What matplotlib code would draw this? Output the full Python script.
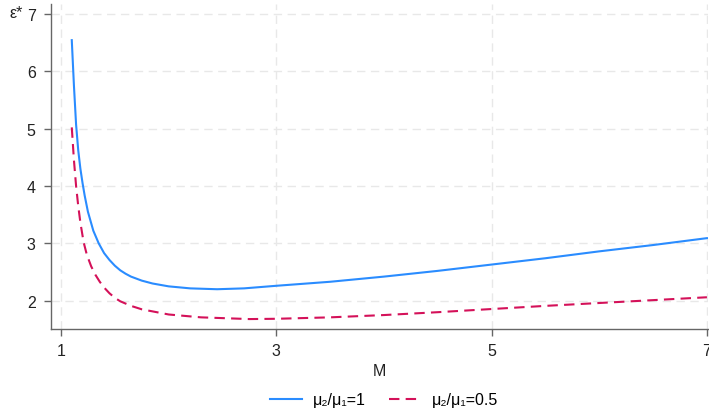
import matplotlib
matplotlib.use("Agg")
import matplotlib.pyplot as plt

plt.rcParams['font.family'] = ['Liberation Sans', 'DejaVu Sans']

# optimal epsilon against M, for two ratios of mu2/mu1
m_ratio1 = [1.10, 1.12, 1.14, 1.16, 1.18, 1.20, 1.22, 1.25, 1.30, 1.35,
            1.40, 1.45, 1.50, 1.55, 1.60, 1.65, 1.75, 1.85, 2.0, 2.2, 2.45,
            2.7, 3.0, 3.5, 4.0, 4.5, 5.0, 5.5, 6.0, 6.5, 7.0]
eps_ratio1 = [6.54, 5.75, 5.07, 4.62, 4.30, 4.05, 3.83, 3.55, 3.22, 3.00,
              2.83, 2.71, 2.61, 2.53, 2.47, 2.42, 2.35, 2.30, 2.25, 2.215, 2.20,
              2.215, 2.26, 2.33, 2.42, 2.52, 2.63, 2.74, 2.86, 2.97, 3.09]

m_ratio05 = [1.10, 1.12, 1.14, 1.16, 1.18, 1.21, 1.24, 1.28, 1.32, 1.36,
             1.40, 1.45, 1.50, 1.55, 1.65, 1.75, 2.0, 2.3, 2.75, 3.0, 3.5,
             4.0, 4.5, 5.0, 5.5, 6.0, 6.5, 7.0]
eps_ratio05 = [5.02, 4.45, 4.00, 3.65, 3.36, 3.02, 2.80, 2.60, 2.45, 2.33,
               2.23, 2.13, 2.05, 1.99, 1.91, 1.85, 1.76, 1.71, 1.68, 1.685, 1.71,
               1.75, 1.80, 1.855, 1.91, 1.96, 2.01, 2.06]

x_ticks = [1, 3, 5, 7]
y_ticks = [2, 3, 4, 5, 6, 7]

fig = plt.figure(figsize=(7.09, 4.14), dpi=100)
ax = fig.add_axes([51 / 709, 84 / 414, 657 / 709, 325 / 414])

ax.plot(m_ratio1, eps_ratio1, color='#2a8cff', lw=1.5, label='μ₂/μ₁=1')
ax.plot(m_ratio05, eps_ratio05, color='#d41159', lw=1.5, ls=(0, (5, 3)),
        label='μ₂/μ₁=0.5')

ax.set_xlim(0.907, 7.01)
ax.set_ylim(1.507, 7.17)
ax.set_xticks(x_ticks)
ax.set_yticks(y_ticks)
ax.grid(True, color='#e8e8e8', ls=(0, (6, 4)), lw=1.0)
ax.set_axisbelow(True)

for side in ['top', 'right']:
    ax.spines[side].set_visible(False)
for side in ['left', 'bottom']:
    ax.spines[side].set_color('#666666')
    ax.spines[side].set_linewidth(1.0)

ax.tick_params(colors='#666666', labelcolor='#222222', labelsize=11.5,
               length=5, width=1.0)
ax.tick_params(axis='y', pad=6)
ax.tick_params(axis='x', pad=5)

ax.set_xlabel('M', fontsize=11.5, color='#222222', labelpad=4)
fig.text(9 / 709, 1 - 14 / 414, 'ε*', fontsize=11.5, color='#222222',
         ha='left', va='center')

fig.legend(loc='center', bbox_to_anchor=(384 / 709, 13 / 414), ncol=2,
           frameon=False, fontsize=11.5, handlelength=2.0, columnspacing=1.5,
           handletextpad=0.65)

fig.savefig('out.png', dpi=100)
